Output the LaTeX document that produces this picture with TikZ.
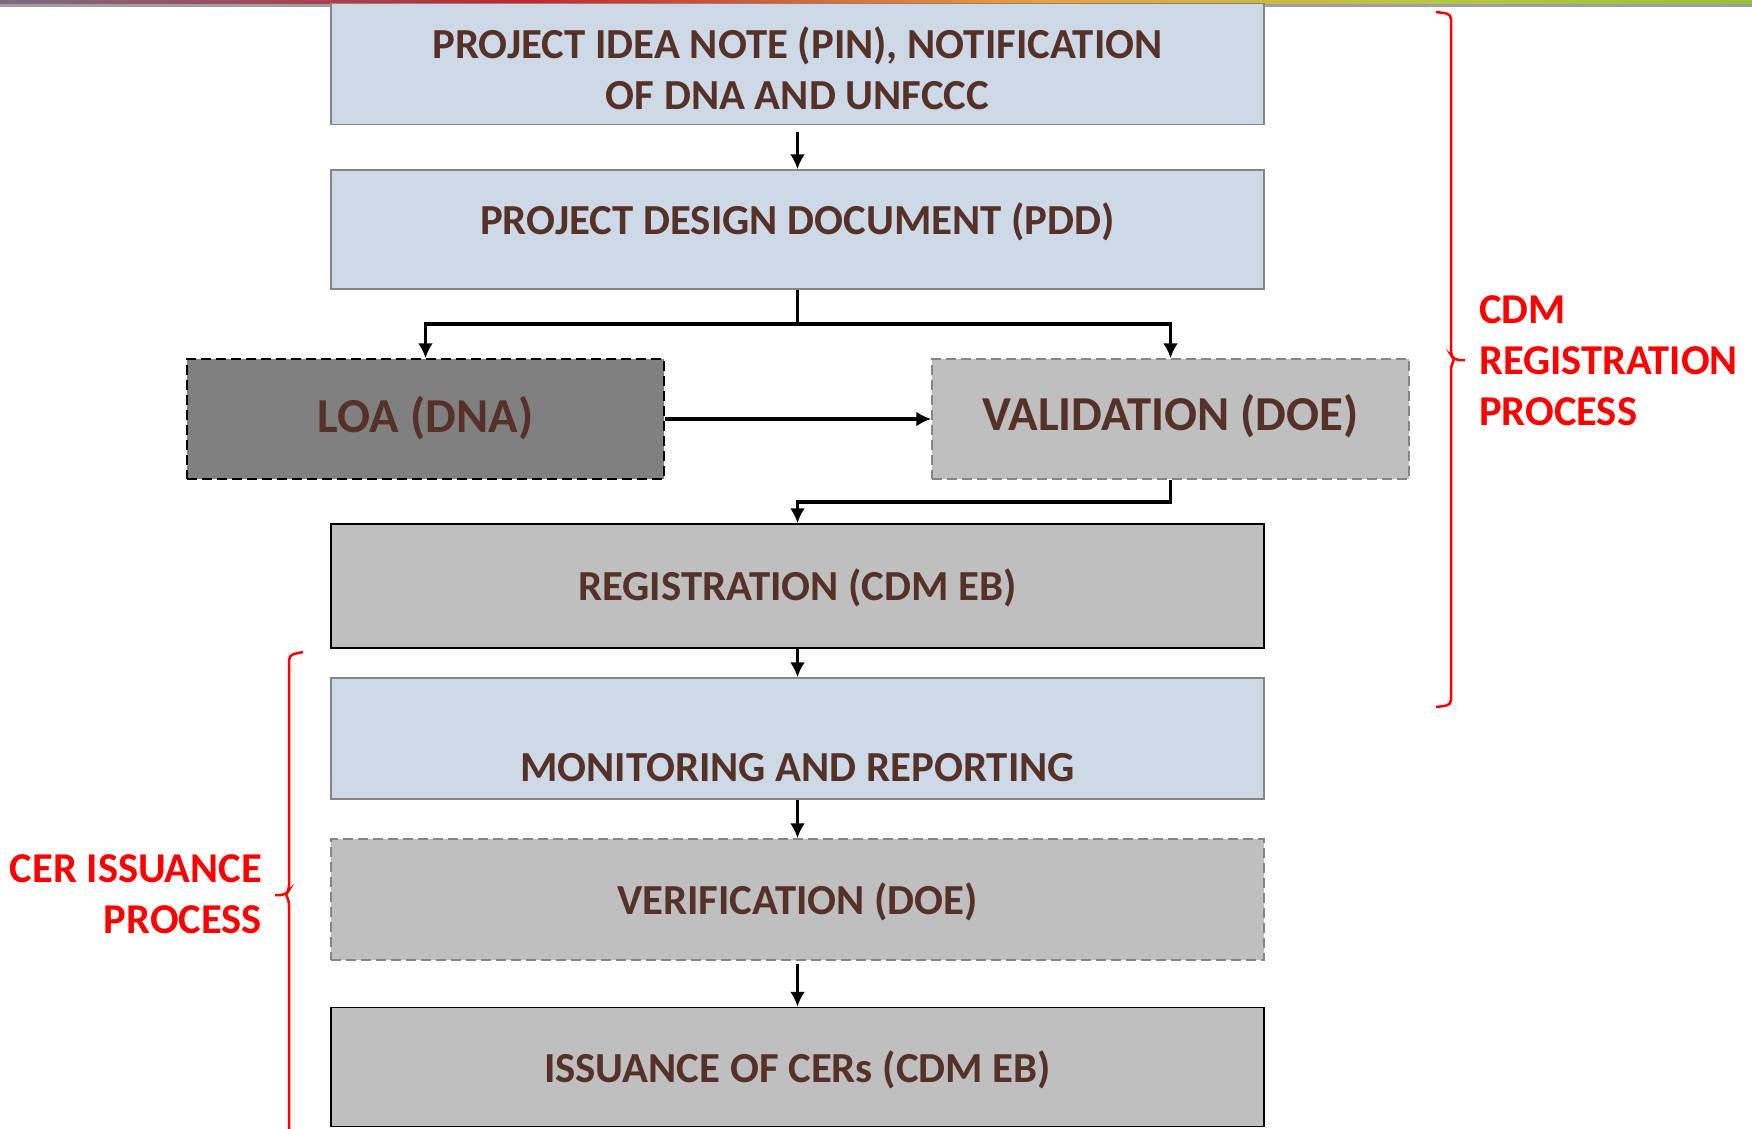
\documentclass[tikz,border=0pt]{standalone}
\usepackage{fontspec}
\setmainfont{Carlito}
\usetikzlibrary{arrows.meta}
\definecolor{txt}{HTML}{553127}
\definecolor{lblue}{HTML}{CED9E8}
\definecolor{lgray}{HTML}{BFBFBF}
\definecolor{dgray}{HTML}{808080}
\definecolor{bordg}{HTML}{858585}
\definecolor{barA}{HTML}{7C6C82}
\definecolor{barB}{HTML}{C8232F}
\definecolor{barC}{HTML}{EBA23A}
\definecolor{barD}{HTML}{BCC646}
\definecolor{barE}{HTML}{98C13E}
\pgfdeclarehorizontalshading{topbar}{100bp}{color(0bp)=(barA); color(25bp)=(barA); color(40bp)=(barB); color(55bp)=(barC); color(65bp)=(barD); color(75bp)=(barE); color(100bp)=(barE)}
\tikzset{
  box/.style={draw, line width=1.5pt, minimum width=933pt, inner sep=0pt},
  bigbox/.style={box, minimum width=477pt, minimum height=120pt},
  boxtext/.style={inner sep=0pt, anchor=base, text=txt, font=\fontsize{42.8}{51}\selectfont\bfseries},
  bigtext/.style={boxtext, font=\fontsize{48.8}{58}\selectfont\bfseries},
  conn/.style={line width=3.5pt, -{Latex[length=15pt,width=15pt]}},
  redlbl/.style={inner sep=0pt, text=red, font=\fontsize{42.5}{51}\selectfont\bfseries},
  brace/.style={draw=red, line width=2.5pt, rounded corners=5pt},
  dashbox/.style={dash pattern=on 10pt off 5pt}
}
\begin{document}
\begin{tikzpicture}[x=1pt,y=-1pt]
\useasboundingbox (0,0) rectangle (1752,1128);
% top bar
\shade[shading=topbar] (0,0) rectangle (1752,3.5);
\fill[gray!75] (0,3.5) rectangle (1752,6.5);

% boxes
\node[box, fill=lblue, draw=bordg, minimum height=121pt] (pin) at (797.5,64) {};
\node[box, fill=lblue, draw=bordg, minimum height=119pt] (pdd) at (797.5,229.5) {};
\node[bigbox, fill=dgray, draw=black, dashbox] (loa) at (425.5,419) {};
\node[bigbox, fill=lgray, draw=bordg, dashbox] (val) at (1170.5,419) {};
\node[box, fill=lgray, draw=black, minimum height=124pt] (reg) at (797.5,586) {};
\node[box, fill=lblue, draw=bordg, minimum height=121pt] (mon) at (797.5,738.5) {};
\node[box, fill=lgray, draw=bordg, dashbox, minimum height=121pt] (ver) at (797.5,899.5) {};
\node[box, fill=lgray, draw=black, minimum height=119pt] (iss) at (797.5,1067) {};

% box texts
\node[boxtext] (pint1) at (797.5,58) {PROJECT IDEA NOTE (PIN), NOTIFICATION};
\node[boxtext] (pint2) at (797.5,109.5) {OF DNA AND UNFCCC};
\node[boxtext] (pddt) at (797.5,234.5) {PROJECT DESIGN DOCUMENT (PDD)};
\node[bigtext] (loat) at (425.5,432) {LOA (DNA)};
\node[bigtext] (valt) at (1170.5,430) {VALIDATION (DOE)};
\node[boxtext] (regt) at (797.5,600) {REGISTRATION (CDM EB)};
\node[boxtext] (mont) at (797.5,781) {MONITORING AND REPORTING};
\node[boxtext] (vert) at (797.5,914) {VERIFICATION (DOE)};
\node[boxtext] (isst) at (797.5,1082.5) {ISSUANCE OF CERs (CDM EB)};

% connectors
\coordinate (split) at (797.5,324);
\coordinate (merge) at (797.5,502);
\draw[conn, shorten <=7pt] (pin.south) -- (pdd.north);
\draw[line width=3.5pt] (pdd.south) -- (split);
\draw[conn] (split) -| (loa.north);
\draw[conn] (split) -| (val.north);
\draw[conn] (loa.east) -- (val.west);
\draw[conn] (val.south) |- (merge) -- (reg.north);
\draw[conn] (reg.south) -- (mon.north);
\draw[conn] (mon.south) -- (ver.north);
\draw[conn, shorten <=3pt] (ver.south) -- (iss.north);

% braces
\draw[brace] (1436,12) -- (1451,14) -- (1451,355) -- (1454,360) -- (1465,360);
\draw[brace] (1454,360) -- (1451,365) -- (1451,705) -- (1436,707);
\draw[brace] (303,652) -- (289,655) -- (289,890) -- (286,895) -- (275,895);
\draw[brace] (286,895) -- (289,900) -- (289,1135);

% labels
\node[redlbl, anchor=west, align=left] (cdm) at (1479,361) {CDM\\REGISTRATION\\PROCESS};
\node[redlbl, anchor=east, align=right] (cer) at (262,894) {CER ISSUANCE\\PROCESS};
\end{tikzpicture}
\end{document}
